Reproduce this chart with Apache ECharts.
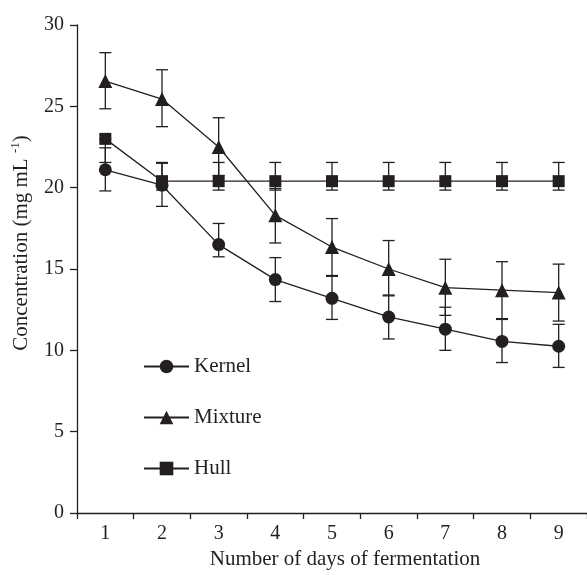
<!DOCTYPE html>
<html>
<head>
<meta charset="utf-8">
<script src="https://cdn.jsdelivr.net/npm/echarts@6/dist/echarts.min.js"></script>
<style>html,body{margin:0;padding:0;background:#fff;}#c{width:587px;height:575px;}</style>
</head>
<body>
<div id="c"></div>
<script>
const days = ['1','2','3','4','5','6','7','8','9'];
const yTicks = [0, 5, 10, 15, 20, 25, 30];

const kernel     = [21.1, 20.15, 16.5, 14.35, 13.2, 12.05, 11.3, 10.55, 10.25];
const kernelLow  = [19.8, 18.85, 15.75, 13.0, 11.9, 10.7, 10.0, 9.25, 8.95];
const kernelHigh = [22.45, 21.5, 17.8, 15.7, 14.55, 13.35, 12.65, 11.9, 11.6];

const mixture     = [26.55, 25.45, 22.5, 18.3, 16.35, 15.0, 13.85, 13.7, 13.55];
const mixtureLow  = [24.85, 23.75, 20.75, 16.6, 14.6, 13.4, 12.15, 11.95, 11.8];
const mixtureHigh = [28.3, 27.25, 24.3, 19.95, 18.1, 16.75, 15.6, 15.45, 15.3];

const hull     = [23.0, 20.4, 20.4, 20.4, 20.4, 20.4, 20.4, 20.4, 20.4];
const hullLow  = [21.55, 19.85, 19.85, 19.85, 19.85, 19.85, 19.85, 19.85, 19.85];
const hullHigh = [23.0, 21.55, 21.55, 21.55, 21.55, 21.55, 21.55, 21.55, 21.55];

const FONT = 'Liberation Serif';
const INK = '#231f20';

function errData(low, high) {
  return low.map((l, i) => [i, l, high[i]]);
}
function errSeries(name, low, high) {
  return {
    type: 'custom',
    name: name + ' error',
    silent: true,
    z: 1,
    data: errData(low, high),
    renderItem: function (params, api) {
      const x = api.value(0);
      const lo = api.coord([x, api.value(1)]);
      const hi = api.coord([x, api.value(2)]);
      const hw = 6;
      const st = { stroke: INK, lineWidth: 1.3 };
      return {
        type: 'group',
        children: [
          { type: 'line', shape: { x1: lo[0], y1: lo[1], x2: hi[0], y2: hi[1] }, style: st },
          { type: 'line', shape: { x1: lo[0] - hw, y1: lo[1], x2: lo[0] + hw, y2: lo[1] }, style: st },
          { type: 'line', shape: { x1: hi[0] - hw, y1: hi[1], x2: hi[0] + hw, y2: hi[1] }, style: st }
        ]
      };
    }
  };
}
function lineSeries(name, data, symbol, size) {
  return {
    type: 'line',
    name: name,
    data: data,
    symbol: symbol,
    symbolSize: size,
    z: 3,
    lineStyle: { color: INK, width: 1.3 },
    itemStyle: { color: INK, borderWidth: 0 }
  };
}

const chart = echarts.init(document.getElementById('c'), null, { renderer: 'canvas' });
chart.setOption({
  animation: false,
  backgroundColor: '#fff',
  textStyle: { fontFamily: FONT, color: INK },
  grid: { left: 77, right: 0, top: 25, bottom: 57 },
  legend: {
    orient: 'vertical',
    left: 138,
    top: 351,
    itemWidth: 45,
    itemHeight: 17,
    itemGap: 30,
    data: ['Kernel', 'Mixture', 'Hull'],
    textStyle: { fontFamily: FONT, fontSize: 21, color: INK, lineHeight: 21 }
  },
  xAxis: {
    type: 'category',
    data: days,
    boundaryGap: true,
    name: 'Number of days of fermentation',
    nameLocation: 'middle',
    nameGap: 36,
    nameTextStyle: { fontFamily: FONT, fontSize: 21, color: INK, padding: [0, 0, 0, 26] },
    axisLine: { lineStyle: { color: INK, width: 1.3 } },
    axisTick: { show: true, length: 6, alignWithLabel: false, lineStyle: { color: INK, width: 1.3 } },
    axisLabel: { margin: 11, fontFamily: FONT, fontSize: 20, color: INK },
    splitLine: { show: false }
  },
  yAxis: {
    type: 'value',
    min: yTicks[0],
    max: yTicks[yTicks.length - 1],
    interval: 5,
    name: '{a|Concentration (mg mL }{s|-1}{a|)}',
    nameLocation: 'middle',
    nameGap: 44,
    nameTextStyle: {
      fontFamily: FONT, fontSize: 21, color: INK,
      padding: [0, 0, 0, 52],
      rich: {
        a: { fontFamily: FONT, fontSize: 21, color: INK, lineHeight: 24 },
        s: { fontFamily: FONT, fontSize: 13, color: INK, lineHeight: 24, verticalAlign: 'top', padding: [0, 0, 9, 0] }
      }
    },
    axisLine: { show: true, lineStyle: { color: INK, width: 1.3 } },
    axisTick: { show: true, length: 7, lineStyle: { color: INK, width: 1.3 } },
    axisLabel: { margin: 13, fontFamily: FONT, fontSize: 20, color: INK },
    splitLine: { show: false }
  },
  series: [
    errSeries('Kernel', kernelLow, kernelHigh),
    errSeries('Mixture', mixtureLow, mixtureHigh),
    errSeries('Hull', hullLow, hullHigh),
    lineSeries('Kernel', kernel, 'circle', 13),
    lineSeries('Mixture', mixture, 'triangle', 14),
    lineSeries('Hull', hull, 'rect', 12)
  ]
});
</script>
</body>
</html>
